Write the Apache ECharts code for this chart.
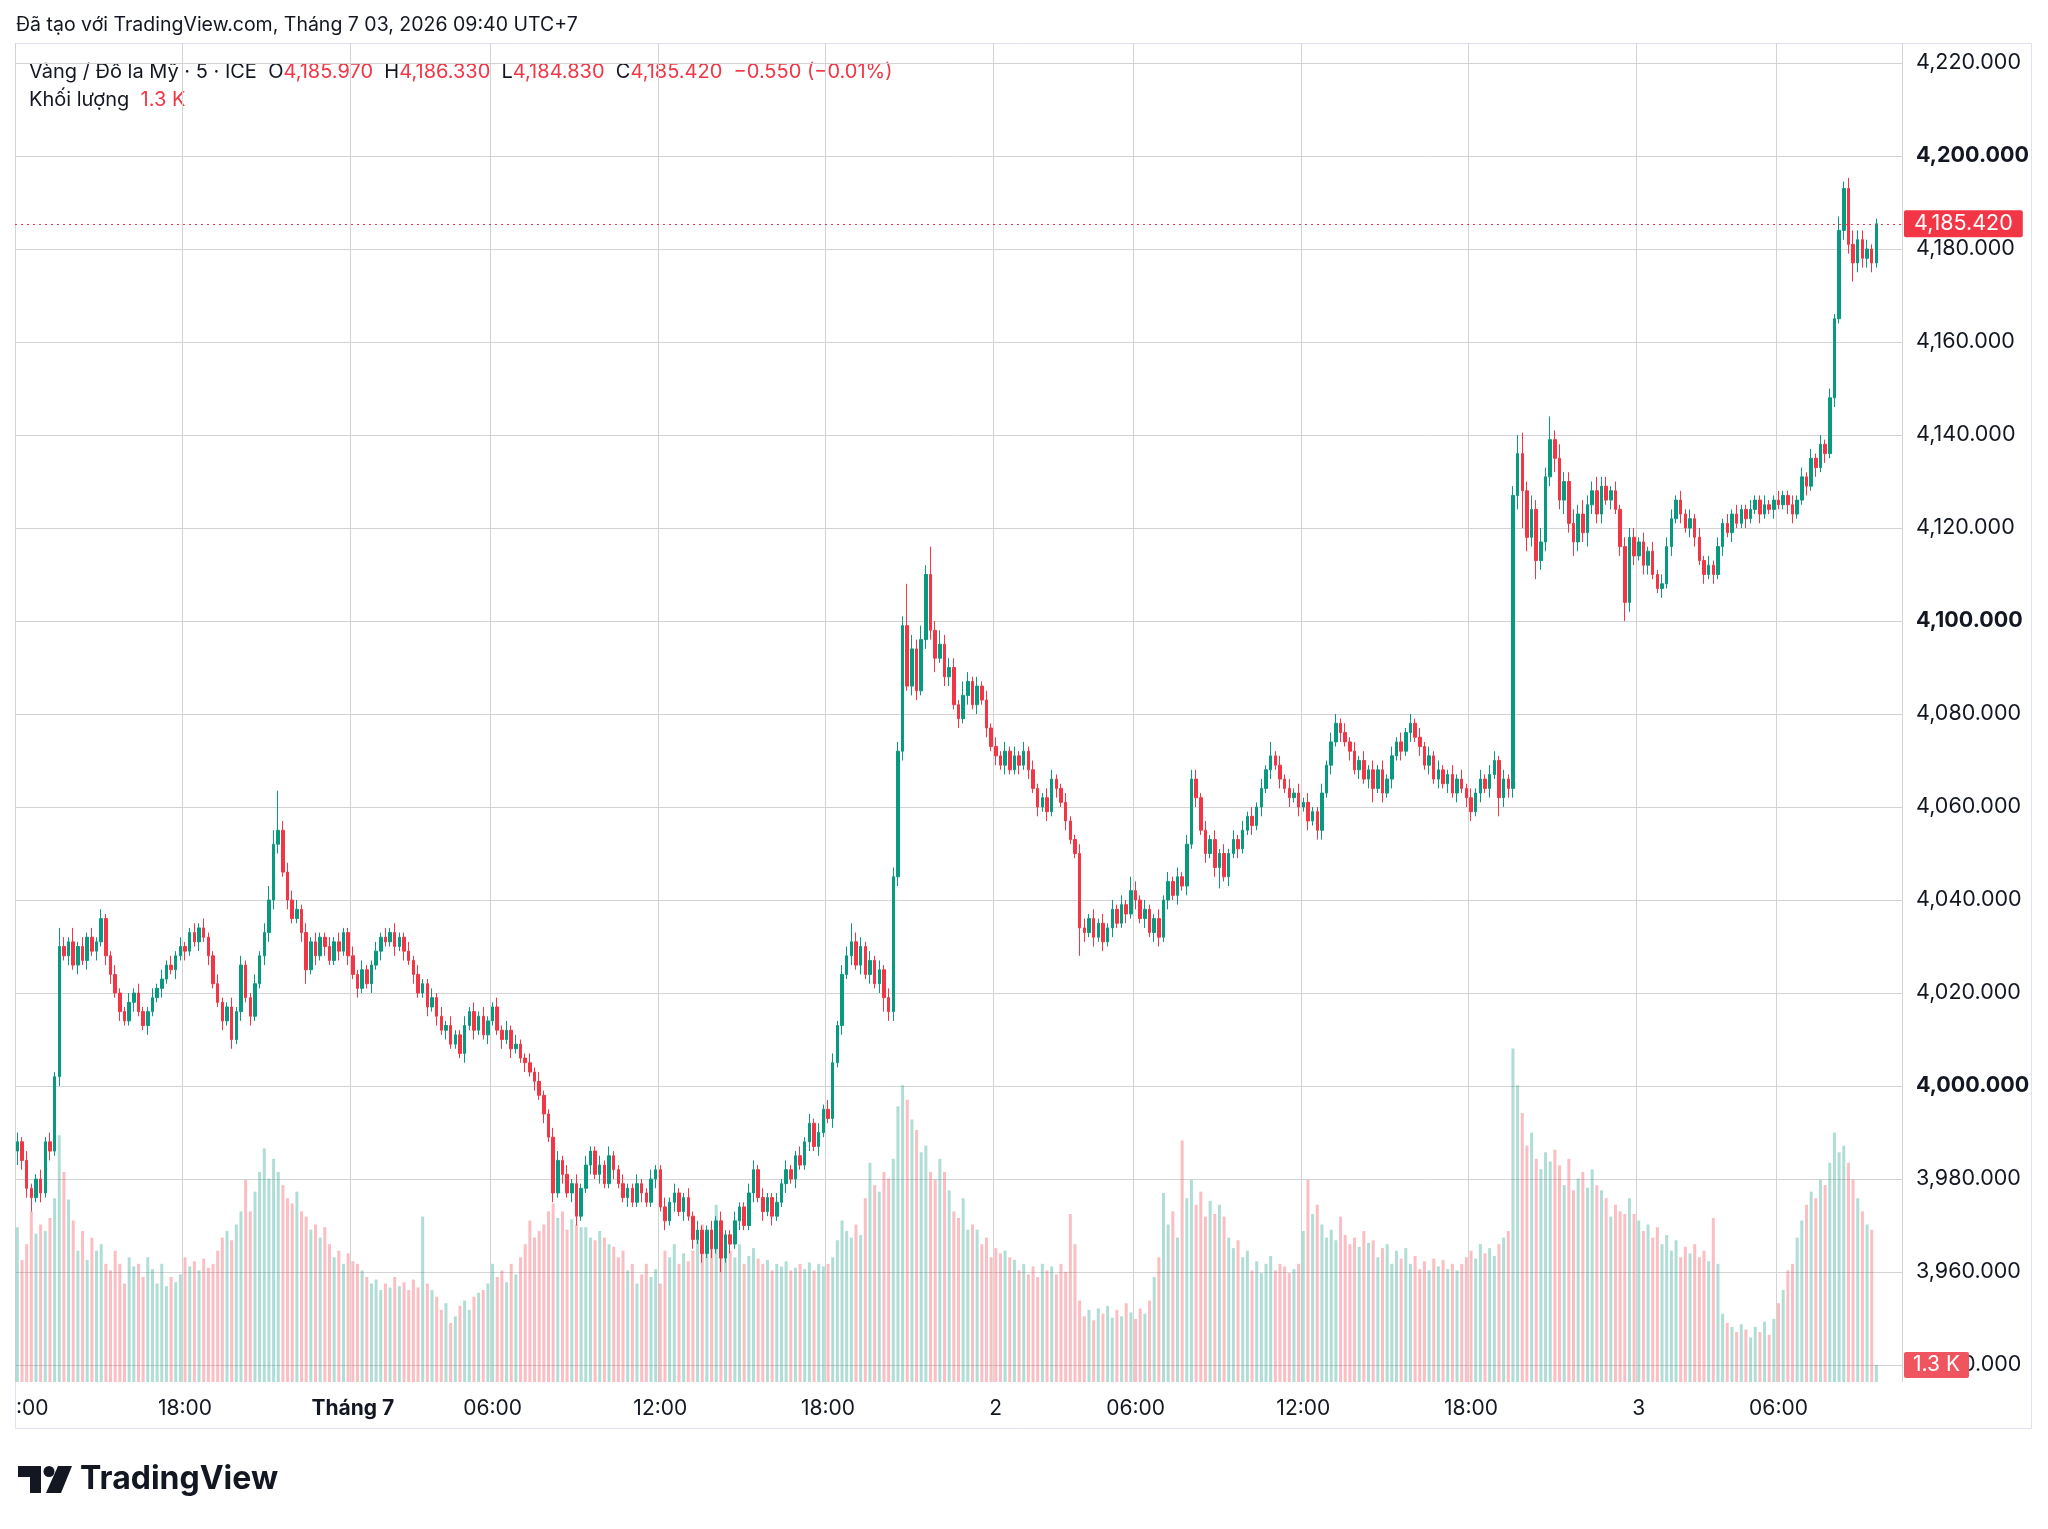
<!DOCTYPE html>
<html>
<head>
<meta charset="utf-8">
<title>Vàng / Đô la Mỹ · 5 · ICE</title>
<script src="https://cdn.jsdelivr.net/npm/echarts@6/dist/echarts.min.js"></script>
<style>
  html, body { margin: 0; padding: 0; background: #fff; }
  #main { width: 2048px; height: 1529px; }
</style>
</head>
<body>
<div id="main"></div>
<script>
// gold, 10 min bars, 30/6 12:00 -> 3/7 09:30 (UTC+7)
// open of each bar = close of the bar before
const firstOpen = 3986;

const closes = [
  3988,3984,3978,3976,3980,3977,3988,3986,4002,4030,
  4028,4031,4026,4030,4027,4032,4029,4031,4036,4028,
  4024,4020,4016,4014,4018,4020,4016,4013,4016,4019,
  4021,4023,4026,4025,4028,4030,4029,4033,4031,4034,
  4032,4028,4022,4018,4014,4017,4010,4016,4026,4019,
  4015,4022,4028,4033,4040,4052,4055,4046,4040,4036,
  4038,4033,4025,4031,4028,4032,4030,4027,4031,4029,
  4033,4028,4024,4021,4025,4022,4026,4029,4032,4031,
  4033,4030,4032,4029,4027,4024,4020,4022,4017,4019,
  4015,4012,4013,4009,4011,4007,4013,4016,4012,4015,
  4011,4014,4017,4012,4010,4012,4008,4009,4006,4005,
  4003,4001,3998,3994,3989,3977,3984,3981,3977,3979,
  3972,3978,3983,3986,3981,3983,3979,3985,3982,3979,
  3976,3978,3975,3979,3977,3975,3980,3982,3974,3971,
  3975,3977,3973,3976,3972,3967,3969,3964,3969,3965,
  3971,3963,3968,3966,3971,3974,3970,3977,3982,3976,
  3973,3976,3972,3975,3979,3982,3980,3985,3983,3988,
  3992,3987,3990,3995,3993,4005,4013,4024,4028,4031,
  4026,4030,4024,4027,4022,4025,4019,4016,4045,4072,
  4099,4086,4094,4085,4096,4110,4098,4092,4095,4088,
  4090,4082,4079,4084,4087,4082,4086,4083,4077,4073,
  4071,4069,4072,4068,4071,4069,4072,4068,4064,4060,
  4062,4059,4066,4064,4061,4057,4053,4050,4034,4033,
  4036,4032,4035,4031,4034,4038,4035,4039,4037,4042,
  4040,4036,4038,4033,4036,4032,4040,4044,4041,4045,
  4043,4052,4066,4062,4055,4050,4053,4047,4050,4045,
  4050,4053,4051,4055,4058,4056,4060,4064,4068,4071,
  4069,4066,4064,4062,4063,4060,4061,4057,4059,4055,
  4063,4069,4074,4078,4076,4074,4072,4068,4070,4066,
  4068,4064,4068,4063,4066,4071,4074,4072,4076,4078,
  4075,4073,4069,4071,4066,4068,4065,4067,4063,4066,
  4064,4062,4059,4063,4066,4064,4067,4070,4062,4066,
  4064,4127,4136,4128,4118,4124,4113,4117,4131,4139,
  4135,4126,4130,4121,4117,4123,4119,4125,4128,4123,
  4129,4126,4128,4124,4116,4104,4118,4114,4117,4112,
  4115,4110,4107,4108,4116,4122,4126,4123,4120,4122,
  4118,4113,4110,4112,4110,4116,4121,4119,4123,4121,
  4124,4122,4124,4126,4123,4125,4124,4126,4125,4127,
  4125,4123,4126,4131,4129,4135,4133,4138,4136,4148,
  4165,4184,4193,4181,4177,4182,4178,4180,4177,4185.42
];

// wick above / below the body, in dollars
const wickUp = [
  2,1,2,1,1,2,1,2,1,4, 2,1,3,1,2,1,2,1,2,1,
  1,2,1,1,2,1,2,1,1,2, 1,2,1,2,1,2,1,1,2,1,
  2,1,1,2,1,1,2,1,2,1, 1,2,1,2,3,3,8.5,2,2,2,
  2,1,2,1,2,1,1,2,1,2, 1,1,2,1,2,1,1,2,1,2,
  1,2,1,1,2,1,2,1,1,2, 1,2,1,2,1,1,2,1,2,1,
  2,1,1,2,1,2,1,2,1,1, 2,1,2,1,1,2,2,1,2,1,
  2,1,2,1,1,2,1,2,1,1, 2,1,1,2,1,1,2,1,1,2,
  1,2,1,1,2,1,2,1,1,2, 1,2,1,1,2,1,1,2,2,1,
  2,1,1,2,1,2,1,1,2,1, 2,1,2,1,2,2,1,2,2,4,
  2,2,1,2,1,2,1,2,2,2, 2,9,3,2,3,2,6,2,3,2,
  2,2,1,3,2,1,2,1,2,1, 2,1,2,1,2,1,2,1,2,1,
  1,2,2,1,1,2,1,1,2,2, 1,2,1,2,1,2,1,2,1,3,
  2,1,2,1,1,2,1,2,1,2, 1,2,2,2,1,2,1,2,1,2,
  1,2,1,2,1,2,1,2,1,3, 1,2,1,2,1,2,1,2,1,1,
  2,1,2,2,1,2,1,2,1,2, 1,2,1,2,1,2,1,2,1,2,
  1,2,1,2,1,2,1,1,2,1, 2,1,2,1,2,1,2,2,1,2,
  1,2,4,4.5,2,3,2,3,2,5, 2,3,2,2,3,2,3,2,2,3,
  2,2,1,2,1,2,2,2,1,2, 1,2,1,2,2,2,1,2,1,2,
  1,2,1,2,1,2,1,2,1,2, 1,1,2,1,1,2,1,1,2,1,
  1,2,1,2,1,2,1,2,1,2, 1,3,1.5,2.3,3,2,2,2,1,1.1
];
const wickDn = [
  3,2,2,3,1,2,1,2,1,2, 1,2,1,2,1,2,1,2,1,2,
  2,1,2,1,1,2,1,1,2,1, 1,2,1,1,2,1,2,1,1,2,
  1,2,1,1,2,1,2,1,2,1, 2,1,1,2,2,2,2,1,2,1,
  1,2,3,1,2,1,2,1,1,2, 1,2,1,2,1,1,2,1,2,1,
  1,2,1,2,1,2,1,1,2,1, 2,1,2,1,1,1,2,1,2,1,
  1,2,1,1,2,1,2,1,1,2, 1,2,1,2,1,2,1,2,1,2,
  2,1,1,2,1,2,1,1,2,1, 1,2,1,1,2,1,1,2,1,2,
  1,2,1,2,1,2,1,2,1,2, 1,3,1,2,1,2,1,1,2,1,
  2,1,2,1,1,2,1,2,1,1, 2,1,2,1,1,2,1,2,1,2,
  1,2,1,2,1,2,3,2,2,2, 2,1,2,2,1,2,2,3,1,2,
  2,1,2,1,2,1,2,1,2,1, 2,1,2,1,1,2,1,2,1,2,
  1,2,1,2,1,2,1,1,6,2, 1,2,1,2,1,2,1,1,2,1,
  2,1,2,1,2,2,1,2,1,2, 1,2,1,2,1,2,1,2,4.5,1,
  2,1,2,1,1,2,1,2,1,2, 1,2,1,2,1,2,1,2,1,2,
  2,1,2,1,2,1,2,1,2,1, 2,3,1,2,1,2,1,2,1,2,
  1,2,1,2,1,2,1,2,1,2, 1,2,2,1,2,1,2,1,4,2,
  2,2,3,8,3,2,4,2,2,2, 3,2,3,2,3,2,2,3,2,2,
  2,1,2,1,2,4,2,2,1,2, 2,1,1,2,1,2,1,2,1,2,
  2,1,2,1,2,1,2,1,2,1, 1,2,1,1,2,1,1,2,1,1,
  2,2,1,1,2,1,2,1,2,1, 2,1,2,2,4,2,2,2,2,1
];

// volume, thousands
const volumes = [
  11.8,9.3,10.5,13,11.3,12,11.5,12.5,14,18.8,16,13.9,12.3,10,11.5,9.3,11,10,10.5,9,
  8.5,10,9,7.5,9.5,8.8,9,8,9.5,8.6,7.5,9,7.3,8,7.6,8.2,9.5,8.8,9.2,8.5,
  9.4,8.7,9,10,11,11.5,10.8,12,13,15.4,13,14.5,16,17.8,15.5,17,16,15,14,13.6,
  14.5,13,12.6,11.6,12,11,11.8,10.5,9.5,10,9,9.8,9.2,9,8.5,8,7.5,7.8,7,7.5,
  7.2,8,7.3,7.6,7,7.8,7.2,12.6,7.5,7,6.5,5.5,6,4.5,5,5.8,6.2,5.5,6.5,6.8,
  7,7.5,9,8,8.5,7.6,9,8.2,9.5,10.5,12.3,11,11.5,12,13,13.6,12.5,13,11.6,12.4,
  12,11.8,11.8,11,10.8,11.5,11,10.5,10.3,9.5,10,8.5,9,7.5,8.2,9,8,8.6,7.5,10,
  9.5,10.5,9,9.8,9.2,10,11,12,10.5,11.6,13.5,11,10.4,10,9.5,10.5,9,9.6,10.2,9.4,
  9,9.3,8.5,9,8.8,9.2,8.5,8.7,9,8.6,9.1,8.5,9,8.8,9,9.5,10.8,12.3,11.5,11,
  12,11.2,14,16.7,15,14.5,16,15.5,17,21,22.6,21.5,20,19.2,17.5,18,16,15.4,17,16,
  14.6,13,12.5,14,11.6,12,11.6,10.5,11,9.5,10.2,9.8,10,9.5,9.3,8.5,9,8.2,8.8,8,
  9,8.5,8.8,8.2,9,8.4,12.8,10.5,6.2,5,5.5,4.7,5.6,5.2,5.8,4.9,5.5,5,6,5.3,
  4.8,5.6,5.2,6.2,8,9.5,14.4,12,13,11,18.4,14,15.4,13.5,14.5,12.6,13.8,12.8,13.5,12.6,
  11,10.2,10.8,9.5,10,8.5,9.2,8.3,9,9.6,8.5,9,8.8,8.3,8.6,9,11.5,15.4,12.8,13.5,
  12,11,11.6,10.8,12.6,11.2,10.5,11,10.3,11.5,10.6,10.8,9.5,10.2,10.5,9,10,9.4,10.2,9,
  9.6,8.6,9.2,8.5,9.4,8.8,9.3,8.6,9,8.5,9,9.5,10,9.4,10.5,9.8,10.2,9.6,10.5,11,
  11.5,25.4,22.6,20.5,18,19,17,16.2,17.5,16.8,17.7,16.5,15,17,14.6,15.5,16,14.8,16.2,15,
  14.6,14,12.6,13.5,13,12.8,14,12.8,12.3,11.5,12,11,11.8,10.5,11.2,10,10.8,9.5,10.3,9.8,
  10.5,9.5,10,9.2,12.5,9,5.2,4.5,4.2,3.8,4.4,4,3.4,4.2,3.8,4.6,3.6,4.8,6,7,
  8.5,9,11,12.3,13.5,14.5,14,15.4,15,16.7,19,17.5,18,16.7,15.4,14,13,12,11.6,1.3
];

const emptySlots = 5;   // blank space right of the last bar
const tickIndex = [0, 36, 72, 102, 138, 174, 210, 240, 276, 312, 348, 378];
const tickText = [':00', '18:00', 'Tháng 7', '06:00', '12:00', '18:00', '2', '06:00', '12:00', '18:00', '3', '06:00'];
const priceMin = 3940, priceMax = 4220, priceStep = 20;
const volMax = 102;
const lastPrice = 4185.42;
const lastVolLabel = '1.3 K';

const legendName = 'Vàng / Đô la Mỹ · 5 · ICE';
const legendOHLC = [['O', '4,185.970'], ['H', '4,186.330'], ['L', '4,184.830'], ['C', '4,185.420']];
const legendChange = '−0.550 (−0.01%)';

const UP = '#089981', DOWN = '#F23645';
const FONT = 'Inter';
const GRID_COLOR = '#d3d3d3';

const candles = closes.map((c, i) => {
  const o = i === 0 ? firstOpen : closes[i - 1];
  return [o, c, Math.min(o, c) - wickDn[i], Math.max(o, c) + wickUp[i]];
});
const volData = volumes.map((v, i) => ({
  value: v,
  itemStyle: { color: candles[i][1] >= candles[i][0] ? 'rgba(8,153,129,0.32)' : 'rgba(242,54,69,0.32)' }
}));
const cats = Array.from({ length: closes.length + emptySlots }, (_, i) => String(i));
const tickSet = new Set(tickIndex);

const fmtPrice = v => v.toLocaleString('en-US', { minimumFractionDigits: 3, maximumFractionDigits: 3 });

let legendText = '{d|' + legendName + '  }';
legendOHLC.forEach(p => { legendText += '{d|' + p[0] + '}{r|' + p[1] + '  }'; });
legendText += '{r|' + legendChange + '}';

const chart = echarts.init(document.getElementById('main'));

const option = {
  animation: false,
  backgroundColor: '#ffffff',
  textStyle: { fontFamily: FONT },
  grid: [
    { left: 15, right: 146, top: 43, bottom: 147 },
    { left: 15, right: 146, top: 63, bottom: 164 }
  ],
  xAxis: [
    {
      type: 'category', gridIndex: 0, data: cats,
      axisLine: { show: false }, axisTick: { show: false },
      splitLine: { show: true, interval: i => tickSet.has(i), lineStyle: { color: GRID_COLOR, width: 1 } },
      axisLabel: {
        interval: i => tickSet.has(i),
        showMinLabel: true,
        margin: 16,
        color: '#131722',
        fontSize: 21,
        fontFamily: FONT,
        formatter: (value) => {
          const k = tickIndex.indexOf(Number(value));
          if (k < 0) return '';
          if (k === 0) return '{c|' + tickText[k] + '}';
          if (tickText[k].startsWith('Tháng')) return '{b|' + tickText[k] + '}';
          return tickText[k];
        },
        rich: {
          b: { fontWeight: 700, fontSize: 21, color: '#131722', fontFamily: FONT },
          c: { fontSize: 21, color: '#131722', fontFamily: FONT, padding: [0, 0, 0, 30] }
        }
      }
    },
    { type: 'category', gridIndex: 1, data: cats, show: false }
  ],
  yAxis: [
    { type: 'value', gridIndex: 0, min: 0, max: volMax, show: false },
    {
      type: 'value', gridIndex: 1, position: 'right',
      min: priceMin, max: priceMax, interval: priceStep,
      axisLine: { show: false }, axisTick: { show: false },
      splitLine: { show: true, lineStyle: { color: GRID_COLOR, width: 1 } },
      axisLabel: {
        margin: 14,
        color: '#131722',
        fontSize: 21.5,
        fontFamily: FONT,
        formatter: v => (v % 100 === 0 ? '{b|' + fmtPrice(v) + '}' : fmtPrice(v)),
        rich: { b: { fontWeight: 700, fontSize: 21.5, color: '#131722', fontFamily: FONT } }
      }
    }
  ],
  series: [
    {
      name: 'Khối lượng', type: 'bar', xAxisIndex: 0, yAxisIndex: 0,
      data: volData, barWidth: 3, silent: true,
      markLine: {
        silent: true, symbol: 'none', z: 10,
        lineStyle: { color: 'rgba(0,0,0,0)', width: 1 },
        label: {
          show: true, position: 'end', distance: 2,
          formatter: lastVolLabel,
          color: '#fff', backgroundColor: '#F0555F', borderRadius: 2,
          padding: [3, 9, 2, 9], fontSize: 21, fontFamily: FONT
        },
        data: [{ yAxis: volumes[volumes.length - 1] }]
      }
    },
    {
      name: legendName, type: 'candlestick', xAxisIndex: 1, yAxisIndex: 1,
      data: candles, barWidth: 3,
      itemStyle: { color: UP, color0: DOWN, borderColor: UP, borderColor0: DOWN, borderWidth: 1 },
      markLine: {
        silent: true, symbol: 'none',
        lineStyle: { color: DOWN, type: [2, 4], width: 1 },
        label: {
          show: true, position: 'end', distance: 2,
          formatter: () => fmtPrice(lastPrice),
          color: '#fff', backgroundColor: DOWN, borderRadius: 2,
          padding: [3, 10, 2, 10], fontSize: 21.5, fontFamily: FONT
        },
        data: [{ yAxis: lastPrice }]
      }
    }
  ],
  graphic: [
    {
      type: 'rect', silent: true, z: -10,
      shape: { x: 15.5, y: 43.5, width: 2016, height: 1385 },
      style: { fill: 'none', stroke: '#e0e3eb', lineWidth: 1 }
    },
    {
      type: 'text', left: 16, top: 15,
      style: { text: 'Đã tạo với TradingView.com, Tháng 7 03, 2026 09:40 UTC+7', fontSize: 19.5, fontFamily: FONT, fill: '#131722' }
    },
    {
      type: 'text', left: 29, top: 62,
      style: {
        text: legendText,
        rich: {
          d: { fontSize: 20, fontFamily: FONT, fill: '#131722' },
          r: { fontSize: 20, fontFamily: FONT, fill: DOWN }
        }
      }
    },
    {
      type: 'text', left: 29, top: 90,
      style: {
        text: '{d|Khối lượng  }{r|' + lastVolLabel + '}',
        rich: {
          d: { fontSize: 20, fontFamily: FONT, fill: '#131722' },
          r: { fontSize: 20, fontFamily: FONT, fill: DOWN }
        }
      }
    },
    // TradingView logo
    {
      type: 'polygon', silent: true,
      shape: { points: [[18, 1466], [41, 1466], [41, 1493], [30, 1493], [30, 1477], [18, 1477]] },
      style: { fill: '#131722' }
    },
    { type: 'circle', silent: true, shape: { cx: 49, cy: 1471.5, r: 5.5 }, style: { fill: '#131722' } },
    {
      type: 'polygon', silent: true,
      shape: { points: [[58, 1466], [72, 1466], [61, 1493], [46, 1493]] },
      style: { fill: '#131722' }
    },
    {
      type: 'text', left: 80, top: 1463,
      style: { text: 'TradingView', fontSize: 32, fontWeight: 700, fontFamily: FONT, fill: '#131722' }
    }
  ]
};

chart.setOption(option);
</script>
</body>
</html>
